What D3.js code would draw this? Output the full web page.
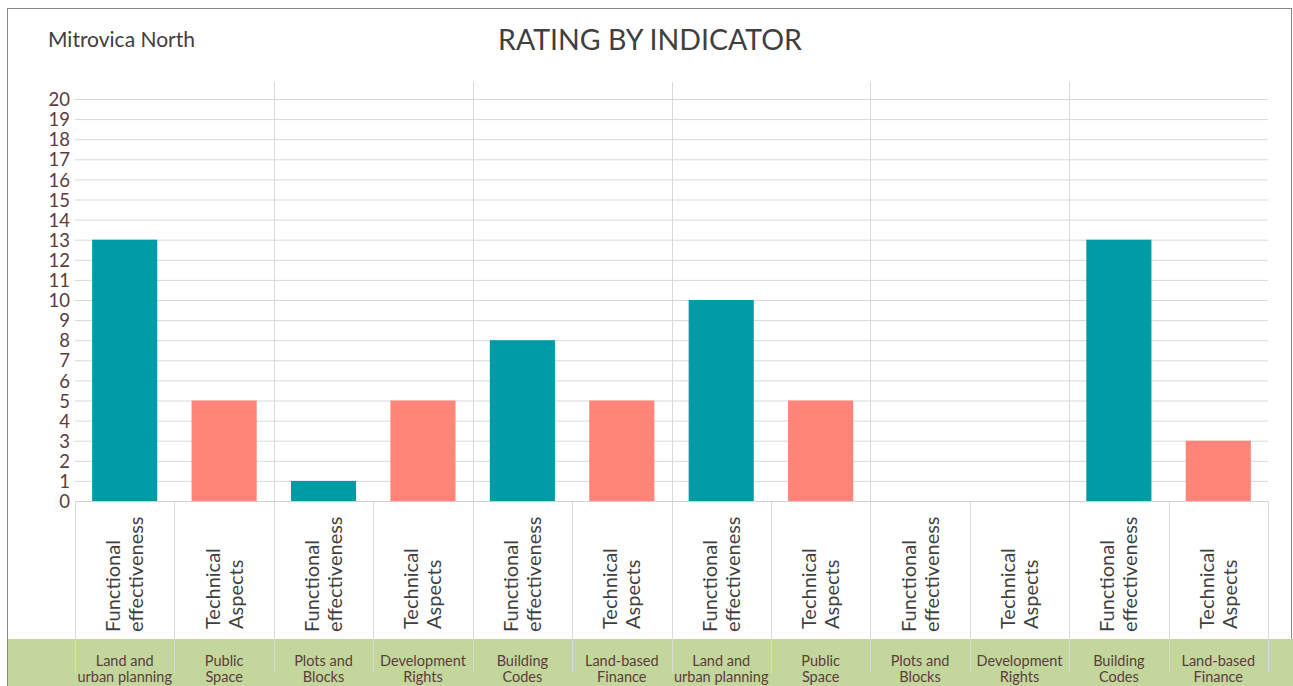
<!DOCTYPE html>
<html lang="en">
  <head>
    <meta charset="UTF-8" />
    <title>Rating by indicator</title>
    <script src="https://cdn.jsdelivr.net/npm/d3@7"></script>
    <style>
      body { margin: 0; background: #fff; }
      text { font-family: Lato, "Open Sans", sans-serif; }
    </style>
  </head>
  <body>
    <script>
      // data
      const aspects = [
        "Functional effectiveness", "Technical Aspects",
        "Functional effectiveness", "Technical Aspects",
        "Functional effectiveness", "Technical Aspects",
        "Functional effectiveness", "Technical Aspects",
        "Functional effectiveness", "Technical Aspects",
        "Functional effectiveness", "Technical Aspects"
      ];
      const indicators = [
        "Land and|urban planning", "Public|Space", "Plots and|Blocks",
        "Development|Rights", "Building|Codes", "Land-based|Finance",
        "Land and|urban planning", "Public|Space", "Plots and|Blocks",
        "Development|Rights", "Building|Codes", "Land-based|Finance"
      ];
      const ratings = [13, 5, 1, 5, 8, 5, 10, 5, 0, 0, 13, 3];
      const yTicks = d3.range(0, 21);

      const W = 1293, H = 686;
      const plotLeft = 75, plotRight = 1268, plotTop = 99, plotBottom = 501;

      let svg = d3.select("body").append("svg")
        .attr("width", W)
        .attr("height", H);

      // outer frame
      svg.append("rect")
        .attr("x", 7.5).attr("y", 8.5)
        .attr("width", 1284).attr("height", 700)
        .attr("fill", "#fff")
        .attr("stroke", "#888");

      let idx = d3.range(ratings.length);
      let x = d3.scaleBand().domain(idx).range([plotLeft, plotRight]);
      let y = d3.scaleLinear().domain([0, 20]).range([plotBottom, plotTop]);
      let step = x.step();
      let barW = step * 0.655;

      // horizontal gridlines + y labels
      let yAxis = svg.append("g")
        .attr("transform", "translate(" + plotLeft + ",0)")
        .call(d3.axisLeft(y).tickValues(yTicks).tickSize(-(plotRight - plotLeft)).tickPadding(5));
      yAxis.select(".domain").remove();
      yAxis.selectAll("line").attr("stroke", "#d9d9d9");
      yAxis.selectAll("text")
        .attr("fill", "#5b3d3d")
        .style("font-size", "18.5px")
        .attr("dy", "0.36em");

      // group separators in plot area
      svg.selectAll(".sep")
        .data(idx.filter(i => i > 0 && i % 2 == 0))
        .enter()
        .append("line")
        .attr("x1", d => Math.round(x(d)) + 0.5)
        .attr("x2", d => Math.round(x(d)) + 0.5)
        .attr("y1", 82)
        .attr("y2", plotBottom)
        .attr("stroke", "#d9d9d9");

      // green band for indicators
      svg.append("rect")
        .attr("x", 8).attr("y", 639)
        .attr("width", 1285).attr("height", 50)
        .attr("fill", "#c3d69b");

      // category separators below axis
      svg.selectAll(".csep")
        .data(d3.range(ratings.length + 1))
        .enter()
        .append("line")
        .attr("x1", d => Math.round(plotLeft + d * step) + 0.5)
        .attr("x2", d => Math.round(plotLeft + d * step) + 0.5)
        .attr("y1", plotBottom)
        .attr("y2", 673)
        .attr("stroke", "#d9d9d9");

      // axis line at zero
      svg.append("line")
        .attr("x1", plotLeft).attr("x2", plotRight)
        .attr("y1", plotBottom + 0.5).attr("y2", plotBottom + 0.5)
        .attr("stroke", "#d0d0d0");

      // bars
      svg.selectAll(".bar")
        .data(ratings)
        .enter()
        .append("rect")
        .attr("x", (d, i) => x(i) + (step - barW) / 2)
        .attr("y", d => y(d))
        .attr("width", barW)
        .attr("height", d => y(0) - y(d))
        .attr("fill", (d, i) => i % 2 == 0 ? "#009ca6" : "#ff8578");

      // rotated aspect labels
      let asp = svg.selectAll(".asp")
        .data(aspects)
        .enter()
        .append("text")
        .attr("transform", (d, i) => "translate(" + (x(i) + step / 2) + "," + (i % 2 == 0 ? 632 : 629) + ") rotate(-90)")
        .attr("fill", "#404040")
        .style("font-size", "20px");
      asp.each(function (d) {
        let parts = d.split(" ");
        let t = d3.select(this);
        parts.forEach(function (p, k) {
          t.append("tspan")
            .attr("x", 0)
            .attr("y", (k - (parts.length - 1) / 2) * 23 + 7)
            .text(p);
        });
      });

      // indicator labels
      let ind = svg.selectAll(".ind")
        .data(indicators)
        .enter()
        .append("text")
        .attr("text-anchor", "middle")
        .attr("fill", "#5b3d3d")
        .style("font-size", "14.5px");
      ind.each(function (d, i) {
        let t = d3.select(this);
        d.split("|").forEach(function (p, k) {
          t.append("tspan")
            .attr("x", x(i) + step / 2)
            .attr("y", 666 + k * 16)
            .text(p);
        });
      });

      // titles
      svg.append("text")
        .attr("x", 48).attr("y", 47)
        .attr("fill", "#404040")
        .style("font-size", "21px")
        .text("Mitrovica North");
      svg.append("text")
        .attr("x", 650).attr("y", 50)
        .attr("text-anchor", "middle")
        .attr("fill", "#404040")
        .style("font-size", "28.5px")
        .text("RATING BY INDICATOR");
    </script>
  </body>
</html>
